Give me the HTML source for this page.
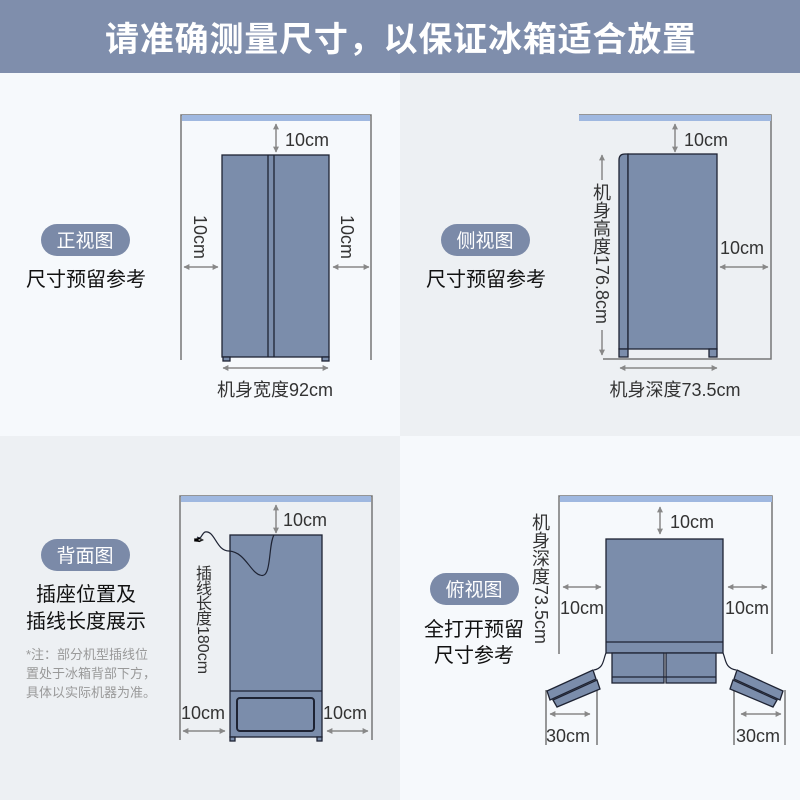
<!DOCTYPE html>
<html><head><meta charset="utf-8"><style>
body{margin:0;width:800px;height:800px;overflow:hidden;font-family:"Liberation Sans","Noto Sans CJK SC",sans-serif}
svg{display:block}
text{font-family:"Liberation Sans","Noto Sans CJK SC",sans-serif}
</style></head><body>
<svg width="800" height="800" viewBox="0 0 800 800">
<defs>
<marker id="a" viewBox="0 0 10 10" refX="9" refY="5" markerWidth="4" markerHeight="4" orient="auto-start-reverse"><path d="M0,0L10,5L0,10z" fill="#888"/></marker>
</defs>
<rect x="0" y="0" width="800" height="800" fill="#f6f9fc"/>
<rect x="400" y="73" width="400" height="363" fill="#edf0f3"/>
<rect x="0" y="436" width="400" height="364" fill="#edf0f3"/>
<rect x="0" y="0" width="800" height="73" fill="#7f8eac"/>
<text x="105" y="51" font-size="34" font-weight="bold" fill="#fff" textLength="591" lengthAdjust="spacing">请准确测量尺寸，以保证冰箱适合放置</text>

<g fill="#7b8aa8">
<rect x="41" y="224" width="89" height="32" rx="16"/>
<rect x="441" y="224" width="89" height="32" rx="16"/>
<rect x="41" y="539" width="89" height="32" rx="16"/>
<rect x="430" y="573" width="89" height="32" rx="16"/>
</g>
<g fill="#fff" font-size="19" text-anchor="middle">
<text x="85" y="247">正视图</text>
<text x="485" y="247">侧视图</text>
<text x="85" y="562">背面图</text>
<text x="474" y="596">俯视图</text>
</g>
<g fill="#111" font-size="20" text-anchor="middle">
<text x="86" y="286">尺寸预留参考</text>
<text x="486" y="286">尺寸预留参考</text>
<text x="86" y="601">插座位置及</text>
<text x="86" y="628">插线长度展示</text>
<text x="474" y="636">全打开预留</text>
<text x="474" y="662">尺寸参考</text>
</g>
<g fill="#999" font-size="13">
<text x="26" y="659">*注：部分机型插线位</text>
<text x="26" y="678">置处于冰箱背部下方，</text>
<text x="26" y="697">具体以实际机器为准。</text>
</g>

<g stroke="#888" stroke-width="1.5" fill="none" marker-start="url(#a)" marker-end="url(#a)">
<line x1="276" y1="124" x2="276" y2="152"/>
<line x1="184" y1="267" x2="218" y2="267"/>
<line x1="333" y1="267" x2="369" y2="267"/>
<line x1="223" y1="368" x2="328" y2="368"/>
<line x1="675" y1="124" x2="675" y2="152"/>
<line x1="720" y1="267" x2="768" y2="267"/>
<line x1="620" y1="368" x2="717" y2="368"/>
<line x1="276" y1="505" x2="276" y2="533"/>
<line x1="183" y1="731" x2="225" y2="731"/>
<line x1="327" y1="731" x2="368" y2="731"/>
<line x1="660" y1="507" x2="660" y2="534"/>
<line x1="563" y1="587" x2="601" y2="587"/>
<line x1="728" y1="587" x2="767" y2="587"/>
<line x1="550" y1="714" x2="590" y2="714"/>
<line x1="741" y1="714" x2="781" y2="714"/>
</g>
<g stroke="#888" stroke-width="1.5" marker-end="url(#a)">
<line x1="602" y1="180" x2="602" y2="155"/>
<line x1="602" y1="330" x2="602" y2="355"/>
</g>

<g stroke="#777" stroke-width="1.5" fill="none">
<path d="M181,360V115H371V360"/>
<path d="M579,115H771V359H603"/>
<path d="M180,740V496H372V740"/>
<path d="M559,654V496H772V654"/>
<path d="M546,690V745M597,690V745M734,690V745M785,690V745"/>
</g>
<g fill="#9fb8e0">
<rect x="182" y="115" width="188" height="6"/>
<rect x="579" y="115" width="192" height="6"/>
<rect x="181" y="496" width="190" height="6"/>
<rect x="560" y="496" width="212" height="6"/>
</g>

<g fill="#7b8dab" stroke="#1e2333" stroke-width="1.3">
<rect x="222" y="155" width="107" height="202"/>
<line x1="268" y1="155" x2="268" y2="357"/><line x1="274" y1="155" x2="274" y2="357"/>
<rect x="223" y="357" width="7" height="4"/><rect x="322" y="357" width="7" height="4"/>
<path d="M619,349V160Q619,154 625,154H628V349Z"/>
<rect x="628" y="154" width="89" height="195"/>
<rect x="619" y="349" width="9" height="8"/><rect x="709" y="349" width="8" height="8"/>
<rect x="230" y="535" width="92" height="202"/>
<line x1="230" y1="691" x2="322" y2="691"/>
<rect x="237" y="698" width="77" height="33" rx="3" stroke-width="2"/>
<rect x="230" y="737" width="5" height="4"/><rect x="317" y="737" width="5" height="4"/>
<rect x="606" y="539" width="117" height="114"/>
<line x1="606" y1="642" x2="723" y2="642"/>
<rect x="612" y="653" width="52" height="30"/><rect x="666" y="653" width="50" height="30"/>
<line x1="612" y1="677" x2="716" y2="677"/>
<path d="M547,691L593,670L596,679L550,700Z"/>
<path d="M553,700L597,680L600,689L557,707Z"/>
<path d="M783,691L737,670L734,679L780,700Z"/>
<path d="M777,700L733,680L730,689L773,707Z"/>
</g>
<g stroke="#1e2333" stroke-width="1.2" fill="none">
<path d="M606,653C603,660 604,668 594,670"/>
<path d="M723,653C726,660 725,668 736,670"/>
<path d="M274,535C268,545 272,580 260,575C250,572 245,552 229,551C216,551 215,530 205,532C201,534 202,540 197,537"/>
</g>
<text x="193" y="545" font-size="14">✒</text>

<g fill="#333" font-size="18">
<text x="285" y="146">10cm</text>
<text x="684" y="146">10cm</text>
<text x="720" y="254">10cm</text>
<text x="275" y="396" text-anchor="middle">机身宽度92cm</text>
<text x="675" y="396" text-anchor="middle">机身深度73.5cm</text>
<text x="283" y="526">10cm</text>
<text x="181" y="719">10cm</text>
<text x="323" y="719">10cm</text>
<text x="670" y="528">10cm</text>
<text x="560" y="614">10cm</text>
<text x="725" y="614">10cm</text>
<text x="546" y="742">30cm</text>
<text x="736" y="742">30cm</text>
<text transform="translate(194,215) rotate(90)">10cm</text>
<text transform="translate(341,215) rotate(90)">10cm</text>
</g>
<g fill="#333" font-size="18" text-anchor="middle">
<text x="602" y="199">机</text><text x="602" y="217">身</text><text x="602" y="235">高</text><text x="602" y="253">度</text>
<text x="541" y="529">机</text><text x="541" y="547">身</text><text x="541" y="565">深</text><text x="541" y="583">度</text>
</g>
<g fill="#333" font-size="16" text-anchor="middle">
<text x="204" y="579">插</text><text x="204" y="594">线</text><text x="204" y="609">长</text><text x="204" y="624">度</text>
</g>
<g fill="#333">
<text transform="translate(596,255) rotate(90)" font-size="18">176.8cm</text>
<text transform="translate(535,585) rotate(90)" font-size="18">73.5cm</text>
<text transform="translate(198,626) rotate(90)" font-size="16">180cm</text>
</g>
</svg>
</body></html>
